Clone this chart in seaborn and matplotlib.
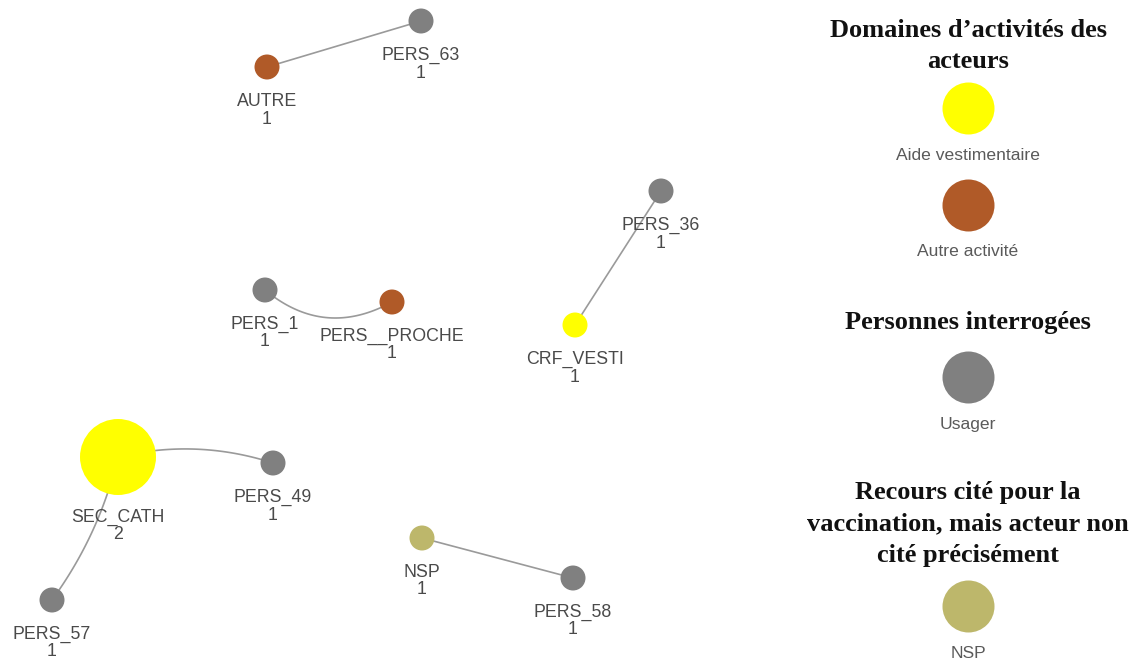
import numpy as np
import pandas as pd
import matplotlib
matplotlib.use("Agg")
import matplotlib.pyplot as plt
import seaborn as sns

# ---------------- data ----------------
node_names = ["PERS_63", "AUTRE", "PERS_36", "PERS_1", "PERS__PROCHE", "CRF_VESTI",
              "SEC_CATH", "PERS_49", "NSP", "PERS_58", "PERS_57"]
node_x = [421, 267, 661, 265, 392, 575, 118, 273, 422, 573, 52]
node_y = [21, 67, 191, 290, 302, 325, 457, 463, 538, 578, 600]
node_degree = [1, 1, 1, 1, 1, 1, 2, 1, 1, 1, 1]
node_group = ["Usager", "Autre activité", "Usager", "Usager", "Autre activité",
              "Aide vestimentaire", "Aide vestimentaire", "Usager", "NSP", "Usager", "Usager"]

edge_source = ["PERS_63", "PERS_36", "PERS_1", "SEC_CATH", "SEC_CATH", "NSP"]
edge_target = ["AUTRE", "CRF_VESTI", "PERS__PROCHE", "PERS_49", "PERS_57", "PERS_58"]
edge_curve = [0.0, 0.0, -0.34, 0.14, 0.10, 0.0]

legend_sections = ["Domaines d\u2019activités des\nacteurs", "Personnes interrogées",
                   "Recours cité pour la\nvaccination, mais acteur non\ncité précisément"]
legend_items = [["Aide vestimentaire", "Autre activité"], ["Usager"], ["NSP"]]

palette = {"Aide vestimentaire": "#FFFF00", "Autre activité": "#B05A28",
           "Usager": "#808080", "NSP": "#BDB76B"}

# ---------------- figure ----------------
W, H, DPI = 1146, 661, 100
sns.set_theme(style="white")
fig = plt.figure(figsize=(W / DPI, H / DPI), dpi=DPI)
ax = fig.add_axes([0, 0, 1, 1])
ax.set_xlim(0, W)
ax.set_ylim(H, 0)
ax.axis("off")

px2pt = 72 / DPI
def area(r):
    return (2 * r * px2pt) ** 2

df = pd.DataFrame({"name": node_names, "x": node_x, "y": node_y,
                   "degree": node_degree, "group": node_group})
pos = {n: (x, y) for n, x, y in zip(node_names, node_x, node_y)}

# edges
for s, t, c in zip(edge_source, edge_target, edge_curve):
    x0, y0 = pos[s]
    x1, y1 = pos[t]
    mx, my = (x0 + x1) / 2, (y0 + y1) / 2
    dx, dy = x1 - x0, y1 - y0
    L = np.hypot(dx, dy)
    nx, ny = dy / L, -dx / L
    cx, cy = mx + nx * c * L, my + ny * c * L
    tt = np.linspace(0, 1, 60)
    bx = (1 - tt) ** 2 * x0 + 2 * (1 - tt) * tt * cx + tt ** 2 * x1
    by = (1 - tt) ** 2 * y0 + 2 * (1 - tt) * tt * cy + tt ** 2 * y1
    ax.plot(bx, by, color="#9a9a9a", lw=1.2, zorder=1)

radius = {1: 12.5, 2: 38}
sns.scatterplot(data=df, x="x", y="y", hue="group", palette=palette,
                size="degree", sizes={d: area(r) for d, r in radius.items()},
                legend=False, linewidth=0, ax=ax, zorder=2)

label_font = "Liberation Sans"
for n, x, y, d in zip(node_names, node_x, node_y, node_degree):
    r = radius[d]
    ax.text(x, y + r + 22, n, ha="center", va="center", fontsize=12.8,
            color="#4a4a4a", family=label_font, zorder=3)
    ax.text(x, y + r + 39.5, str(d), ha="center", va="center", fontsize=12.8,
            color="#4a4a4a", family=label_font, zorder=3)

# legend panel
lx = 968
title_font = dict(family="Liberation Serif", weight="bold", fontsize=19, color="#111111")
title_y = [46, 323, 524]
item_y = [[108, 205], [377], [606]]
for sec, items, ty, iys in zip(legend_sections, legend_items, title_y, item_y):
    ax.text(lx, ty, sec, ha="center", va="center", linespacing=1.45, **title_font)
    for it, iy in zip(items, iys):
        sns.scatterplot(x=[lx], y=[iy], color=palette[it], s=area(26), linewidth=0,
                        ax=ax, legend=False, zorder=2)
        ax.text(lx, iy + 47, it, ha="center", va="center", fontsize=12.6,
                color="#5a5a5a", family=label_font)

ax.set_xlim(0, W)
ax.set_ylim(H, 0)
ax.axis("off")
fig.savefig("out.png", dpi=DPI)
